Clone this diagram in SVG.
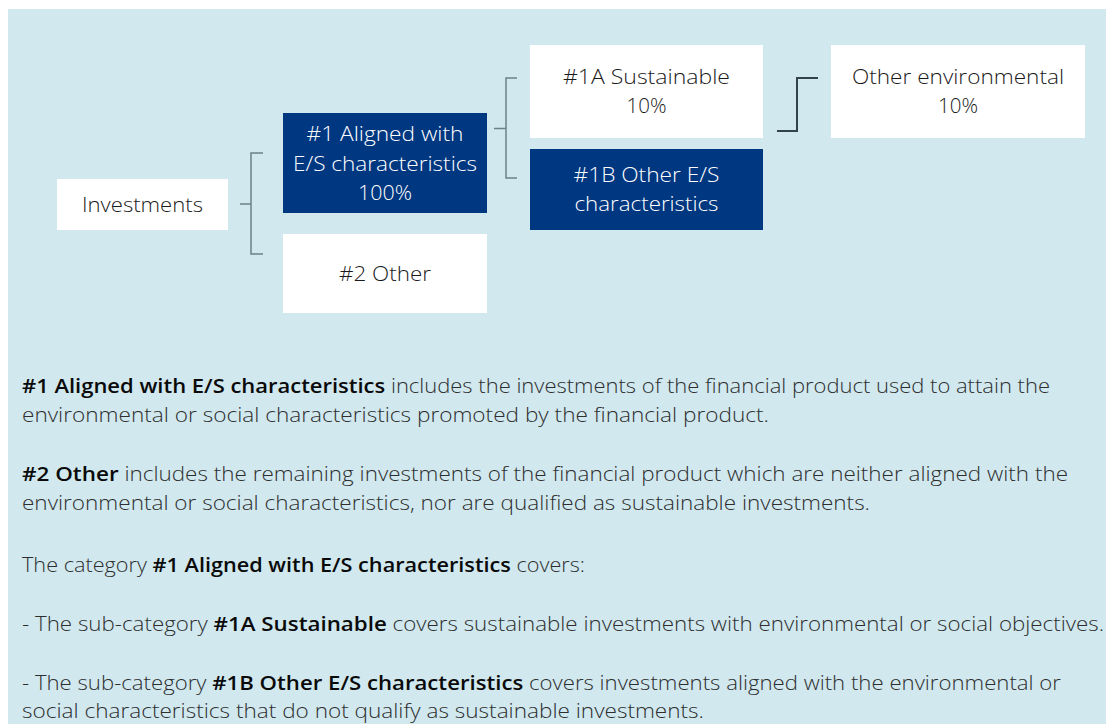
<svg xmlns="http://www.w3.org/2000/svg" width="1106" height="724" viewBox="0 0 1106 724">
<style>
.bg{fill:#ffffff}
.panel{fill:#d0e8ee}
.wbox{fill:#ffffff}
.nbox{fill:#003781}
.t{font-family:"Open Sans","Liberation Sans",sans-serif;font-size:20px;font-weight:300;text-anchor:middle}
.dk{fill:#1a1a1a}
.lt{fill:#ffffff}
.br{fill:none;stroke:#6a8288;stroke-width:1.5}
.el{fill:none;stroke:#33434a;stroke-width:2}
.p{font-family:"Open Sans","Liberation Sans",sans-serif;font-size:20px;font-weight:300;fill:#2e2e2e}
.b{font-weight:600;fill:#0a0a0a}
</style>
<rect class="bg" x="0" y="0" width="1106" height="724"/>
<rect class="panel" x="8" y="9" width="1098" height="715"/>
<g id="connectors">
<path class="br" d="M240,204 H251 M263,153 H251 V254 H263"/>
<path class="br" d="M494,128.5 H506 M517,78 H506 V178 H517"/>
<path class="el" d="M777,131 H797 V78 H818"/>
</g>
<g id="investments">
<rect class="wbox" x="57" y="179" width="171" height="51"/>
<text class="t dk" x="142.5" y="212" textLength="121" lengthAdjust="spacingAndGlyphs">Investments</text>
</g>
<g id="aligned">
<rect class="nbox" x="283" y="113" width="204" height="100"/>
<text class="t lt" x="385" y="141" textLength="157" lengthAdjust="spacingAndGlyphs">#1 Aligned with</text>
<text class="t lt" x="385" y="171" textLength="184" lengthAdjust="spacingAndGlyphs">E/S characteristics</text>
<text class="t lt" x="385" y="200" textLength="54" lengthAdjust="spacingAndGlyphs">100%</text>
</g>
<g id="other">
<rect class="wbox" x="283" y="234" width="204" height="79"/>
<text class="t dk" x="385" y="281" textLength="92" lengthAdjust="spacingAndGlyphs">#2 Other</text>
</g>
<g id="sustainable">
<rect class="wbox" x="530" y="45" width="233" height="93"/>
<text class="t dk" x="646.5" y="84" textLength="167" lengthAdjust="spacingAndGlyphs">#1A Sustainable</text>
<text class="t dk" x="646.5" y="113" textLength="40" lengthAdjust="spacingAndGlyphs">10%</text>
</g>
<g id="other-es">
<rect class="nbox" x="530" y="149" width="233" height="81"/>
<text class="t lt" x="646.5" y="182" textLength="146" lengthAdjust="spacingAndGlyphs">#1B Other E/S</text>
<text class="t lt" x="646.5" y="211" textLength="144" lengthAdjust="spacingAndGlyphs">characteristics</text>
</g>
<g id="other-env">
<rect class="wbox" x="831" y="45" width="254" height="93"/>
<text class="t dk" x="958" y="84" textLength="212" lengthAdjust="spacingAndGlyphs">Other environmental</text>
<text class="t dk" x="958" y="113" textLength="40" lengthAdjust="spacingAndGlyphs">10%</text>
</g>
<g id="notes">
<text class="p" x="22" y="393" textLength="1028" lengthAdjust="spacingAndGlyphs"><tspan class="b">#1 Aligned with E/S characteristics</tspan> includes the investments of the financial product used to attain the</text>
<text class="p" x="22" y="422" textLength="747" lengthAdjust="spacingAndGlyphs">environmental or social characteristics promoted by the financial product.</text>
<text class="p" x="22" y="481" textLength="1046" lengthAdjust="spacingAndGlyphs"><tspan class="b">#2 Other</tspan> includes the remaining investments of the financial product which are neither aligned with the</text>
<text class="p" x="22" y="510" textLength="848" lengthAdjust="spacingAndGlyphs">environmental or social characteristics, nor are qualified as sustainable investments.</text>
<text class="p" x="22" y="572" textLength="563" lengthAdjust="spacingAndGlyphs">The category <tspan class="b">#1 Aligned with E/S characteristics</tspan> covers:</text>
<text class="p" x="22" y="631" textLength="1082" lengthAdjust="spacingAndGlyphs">- The sub-category <tspan class="b">#1A Sustainable</tspan> covers sustainable investments with environmental or social objectives.</text>
<text class="p" x="22" y="690" textLength="1039" lengthAdjust="spacingAndGlyphs">- The sub-category <tspan class="b">#1B Other E/S characteristics</tspan> covers investments aligned with the environmental or</text>
<text class="p" x="22" y="718" textLength="682" lengthAdjust="spacingAndGlyphs">social characteristics that do not qualify as sustainable investments.</text>
</g>
</svg>
